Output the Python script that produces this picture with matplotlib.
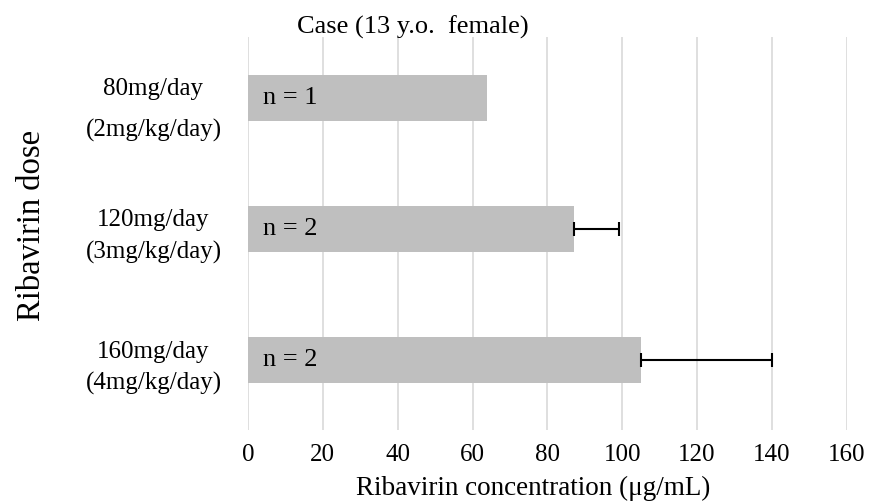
import matplotlib.pyplot as plt

plt.rcParams['font.family'] = ['Liberation Serif', 'DejaVu Serif']

# Datos
dosis = ['80mg/day\n(2mg/kg/day)', '120mg/day\n(3mg/kg/day)', '160mg/day\n(4mg/kg/day)']
concentracion = [64, 87.2, 105]
error_sup = [0, 12, 35]
n_casos = ['n = 1', 'n = 2', 'n = 2']
ticks_x = [0, 20, 40, 60, 80, 100, 120, 140, 160]

fig = plt.figure(figsize=(8.73, 5.01), dpi=100)
ax = fig.add_axes([0.284, 0.142, 0.686, 0.784])

pos = list(range(len(dosis)))
ax.barh(pos, concentracion, height=0.35, color='#BFBFBF', zorder=2)
# barras de error solo hacia la derecha
for i in pos:
    if error_sup[i] > 0:
        ax.errorbar(concentracion[i], i, xerr=[[0], [error_sup[i]]], fmt='none',
                    ecolor='black', elinewidth=1.5, capsize=5, capthick=1.5, zorder=3)
    ax.text(4, i, n_casos[i], va='center', ha='left', fontsize=19, zorder=4)

ax.set_xlim(0, 160)
ax.set_ylim(2.53, -0.466)
ax.set_xticks(ticks_x)
ax.set_yticks(pos)
ax.set_yticklabels(dosis, multialignment='center', fontsize=18, linespacing=1.52)
ax.tick_params(axis='y', length=0, pad=19)
ax.tick_params(axis='x', length=0, labelsize=18, pad=10)

# la primera etiqueta tiene mas espacio entre lineas
ax.get_yticklabels()[0].set_linespacing(2.04)

ax.grid(axis='x', color='#D9D9D9', linewidth=1.2, zorder=0)
for s in ax.spines.values():
    s.set_visible(False)

ax.set_xlabel('Ribavirin concentration (\u03bcg/mL)', fontsize=19.5)
ax.xaxis.set_label_coords(0.477, -0.118)
ax.set_ylabel('Ribavirin dose', fontsize=23.5)
ax.yaxis.set_label_coords(-0.335, 0.52)

fig.text(0.473, 0.945, 'Case (13 y.o.  female)', ha='center', va='center', fontsize=19)

plt.savefig('out.png', dpi=100)
